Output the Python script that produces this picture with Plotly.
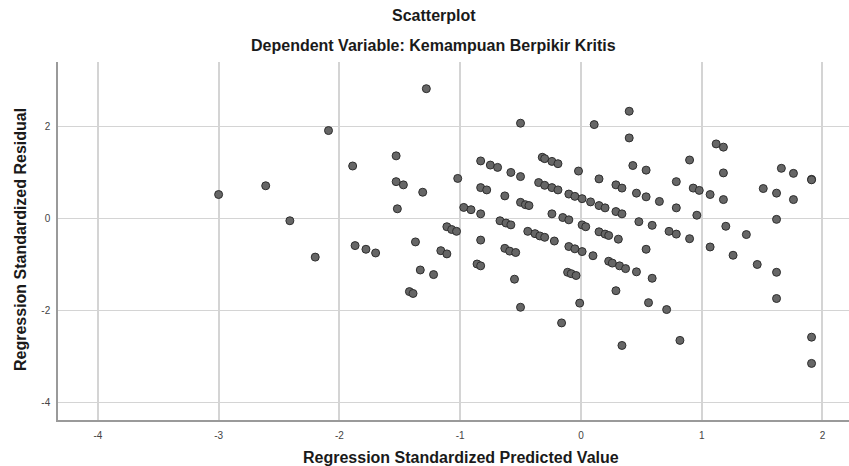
import plotly.graph_objects as go

# Regression Standardized Predicted Value
pred = [
    -1.28, -2.09, -1.53, -1.89, -1.53, -1.47, -1.31, -2.61, -3.00, -1.52,
    -2.41, -1.37, -1.87, -1.78, -1.70, -2.20, -1.33, -1.42, -1.39, -1.22,
    -0.50, 0.11, 0.40, 0.40, 0.43, 0.46, 0.48, -1.02, -0.83, -0.75,
    -0.69, -0.58, -0.50, -0.32, -0.30, -0.24, -0.19, -0.02, 0.15, 0.29,
    0.34, -0.83, -0.78, -0.63, -0.50, -0.46, -0.43, -0.35, -0.30, -0.24,
    -0.19, -0.10, -0.05, 0.01, 0.08, 0.15, 0.20, 0.29, 0.34, -0.97,
    -0.91, -0.83, -0.24, -0.15, -0.10, -0.67, -0.62, -0.58, 0.01, 0.04,
    -1.11, -1.07, -1.03, -0.44, -0.38, -0.34, -0.30, -0.22, 0.15, 0.20,
    0.23, 0.31, -0.83,
    -0.10, -0.05, 0.01, 0.10, 0.23, 0.26, 0.32, 0.37, 0.46, -0.63,
    -0.59, -0.54, -1.16, -1.11, -0.86, -0.83, -0.55, -0.11, -0.08, -0.04,
    0.29, -0.01, -0.50, -0.16, 0.34,
    0.54, 0.54, 0.65, 0.59, 0.54, 0.59, 0.56, 0.71, 0.82, 0.90,
    0.79, 0.93, 0.98, 0.79, 0.96, 0.73, 0.79, 0.90, 1.07, 1.07,
    1.12, 1.18, 1.18, 1.18, 1.20, 1.37, 1.26, 1.46, 1.51, 1.62,
    1.62, 1.62, 1.62, 1.66, 1.76, 1.76, 1.91, 1.91, 1.91, 1.91,
]

# Regression Standardized Residual
resid = [
    2.82, 1.91, 1.36, 1.14, 0.80, 0.73, 0.57, 0.71, 0.52, 0.21,
    -0.05, -0.51, -0.59, -0.67, -0.75, -0.84, -1.12, -1.59, -1.63, -1.22,
    2.07, 2.04, 2.33, 1.75, 1.15, 0.55, -0.07, 0.87, 1.25, 1.16,
    1.11, 1.00, 0.91, 1.33, 1.30, 1.24, 1.19, 1.03, 0.86, 0.73,
    0.66, 0.67, 0.62, 0.49, 0.35, 0.30, 0.28, 0.78, 0.72, 0.67,
    0.62, 0.53, 0.48, 0.43, 0.36, 0.28, 0.23, 0.15, 0.10, 0.24,
    0.19, 0.10, 0.10, 0.02, -0.03, -0.05, -0.10, -0.14, -0.14, -0.18,
    -0.18, -0.24, -0.28, -0.28, -0.33, -0.38, -0.41, -0.49, -0.29, -0.34,
    -0.37, -0.45, -0.47,
    -0.61, -0.66, -0.72, -0.81, -0.93, -0.97, -1.03, -1.09, -1.16, -0.65,
    -0.71, -0.74, -0.70, -0.77, -0.99, -1.03, -1.32, -1.17, -1.20, -1.24,
    -1.57, -1.84, -1.93, -2.27, -2.76,
    1.05, 0.47, 0.37, -0.15, -0.67, -1.30, -1.83, -1.98, -2.65, 1.27,
    0.80, 0.66, 0.61, 0.23, 0.07, -0.28, -0.34, -0.44, -0.62, 0.52,
    1.62, 1.55, 0.99, 0.41, -0.17, -0.35, -0.80, -1.00, 0.65, 0.55,
    -0.02, -1.17, -1.74, 1.09, 0.98, 0.41, 0.85, 0.84, -2.58, -3.15,
]

x_ticks = [-4, -3, -2, -1, 0, 1, 2]
y_ticks = [-4, -2, 0, 2]

title_text = "Scatterplot"
subtitle_text = "Dependent Variable: Kemampuan Berpikir Kritis"
x_title = "Regression Standardized Predicted Value"
y_title = "Regression Standardized Residual"

FONT = "Liberation Sans, Arial, sans-serif"

fig = go.Figure(
    go.Scatter(
        x=pred, y=resid, mode="markers",
        marker=dict(size=8, color="#666666", line=dict(color="#2e2e2e", width=1)),
        hoverinfo="x+y",
    )
)

W, H = 849, 466
L, R, T, B = 58, 0, 62, 46
pw, ph = W - L - R, H - T - B

def px_x(px):
    return (px - L) / pw

def px_y(py):
    return (H - B - py) / ph

fig.update_layout(
    width=W, height=H,
    margin=dict(l=L, r=R, t=T, b=B),
    paper_bgcolor="white", plot_bgcolor="white",
    showlegend=False,
    font=dict(family=FONT, color="#222222"),
    xaxis=dict(
        range=[-4.33, 2.22], tickvals=x_ticks, ticktext=[str(v) for v in x_ticks],
        showgrid=True, gridcolor="#d4d4d4", gridwidth=1.5,
        zeroline=False, showline=True, linecolor="#9a9a9a", linewidth=1.5,
        ticks="outside", ticklen=5, tickcolor="rgba(0,0,0,0)",
        tickfont=dict(size=10, color="#444444"),
    ),
    yaxis=dict(
        range=[-4.38, 3.40], tickvals=y_ticks, ticktext=[str(v) for v in y_ticks],
        showgrid=True, gridcolor="#d4d4d4", gridwidth=1,
        zeroline=False, showline=True, linecolor="#9a9a9a", linewidth=1.5,
        ticks="outside", ticklen=4, tickcolor="rgba(0,0,0,0)",
        tickfont=dict(size=10, color="#444444"),
    ),
    annotations=[
        dict(text=f"<b>{title_text}</b>", xref="paper", yref="paper",
             x=px_x(434), y=px_y(16), showarrow=False,
             xanchor="center", yanchor="middle", font=dict(size=16, color="#1a1a1a")),
        dict(text=f"<b>{subtitle_text}</b>", xref="paper", yref="paper",
             x=px_x(433), y=px_y(45), showarrow=False,
             xanchor="center", yanchor="middle", font=dict(size=16, color="#1a1a1a")),
        dict(text=f"<b>{x_title}</b>", xref="paper", yref="paper",
             x=px_x(461), y=px_y(457), showarrow=False,
             xanchor="center", yanchor="middle", font=dict(size=16, color="#1a1a1a")),
        dict(text=f"<b>{y_title}</b>", xref="paper", yref="paper",
             x=px_x(20), y=px_y(240), showarrow=False, textangle=-90,
             xanchor="center", yanchor="middle", font=dict(size=16, color="#1a1a1a")),
    ],
)

fig.write_html(
    "out.html",
    config={"displayModeBar": False},
    post_script="document.body.style.margin='0';document.body.style.overflow='hidden';",
)
